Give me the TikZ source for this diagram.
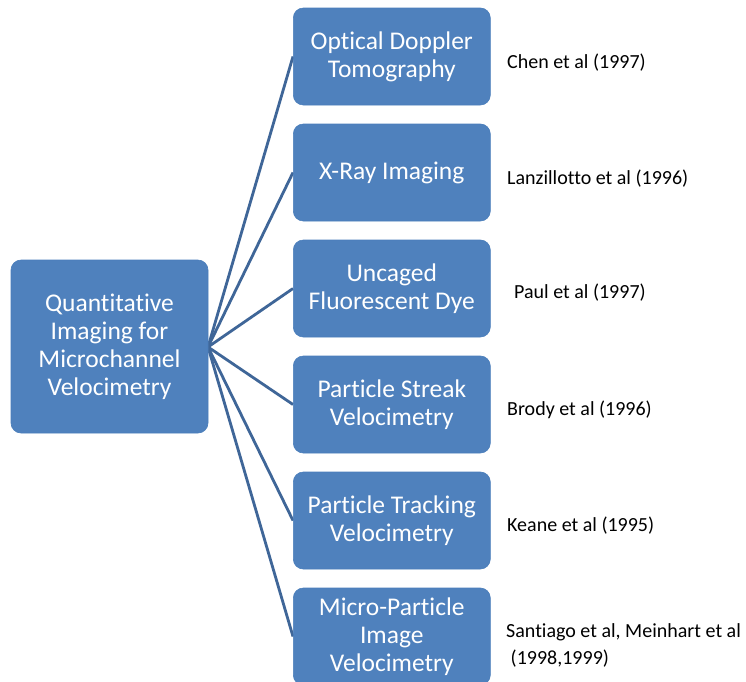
\documentclass[tikz,border=0pt]{standalone}
\usepackage{fontspec}
\setmainfont[Ligatures=NoCommon]{Carlito}
\definecolor{boxblue}{HTML}{4F81BD}
\definecolor{boxedge}{HTML}{4A7EBB}
\definecolor{linkblue}{HTML}{3F6698}
\begin{document}
\begin{tikzpicture}[x=1pt,y=-1pt,
  box/.style={draw=boxedge,line width=0.6pt,fill=boxblue,rounded corners=10pt,
    minimum width=197pt,minimum height=97pt,align=center,text=white,
    font=\fontsize{25.5}{28}\selectfont,inner sep=0pt},
  link/.style={draw=linkblue,line width=2.8pt},
  cite/.style={anchor=west,align=left,font=\fontsize{20}{27}\selectfont,inner sep=0pt}]
\useasboundingbox (0,0) rectangle (746,681);
\clip (0,0) rectangle (746,681);
\fill[white] (0,0) rectangle (746,681);

% connectors, drawn first so the boxes cover their ends
\coordinate (hub) at (208,347);
\coordinate (e1) at (293,56.5);
\coordinate (e2) at (293,172.5);
\coordinate (e3) at (293,288.5);
\coordinate (e4) at (293,404.5);
\coordinate (e5) at (293,520.5);
\coordinate (e6) at (293,636.5);
\foreach \e in {e1,e2,e3,e4,e5,e6}
  \draw[link] (hub) -- (\e);

% hub box
\node[box,minimum height=173pt] (L) at (109.5,346.5)
  {Quantitative\\Imaging for\\Microchannel\\Velocimetry};

% method boxes
\node[box] (b1) at (e1) [anchor=west] {Optical Doppler\\Tomography};
\node[box] (b2) at (e2) [anchor=west] {X-Ray Imaging};
\node[box] (b3) at (e3) [anchor=west] {Uncaged\\Fluorescent Dye};
\node[box] (b4) at (e4) [anchor=west] {Particle Streak\\Velocimetry};
\node[box] (b5) at (e5) [anchor=west] {Particle Tracking\\Velocimetry};
\node[box] (b6) at (e6) [anchor=west] {Micro-Particle\\Image\\Velocimetry};

% references
\node[cite] (c1) at (507,63)  {Chen et al (1997)};
\node[cite] (c2) at (507,179) {Lanzillotto et al (1996)};
\node[cite] (c3) at (514,293) {Paul et al (1997)};
\node[cite] (c4) at (507,410) {Brody et al (1996)};
\node[cite] (c5) at (507,526) {Keane et al (1995)};
\node[cite] (c6) at (506,645) {Santiago et al, Meinhart et al\\\ (1998,1999)};
\end{tikzpicture}
\end{document}
